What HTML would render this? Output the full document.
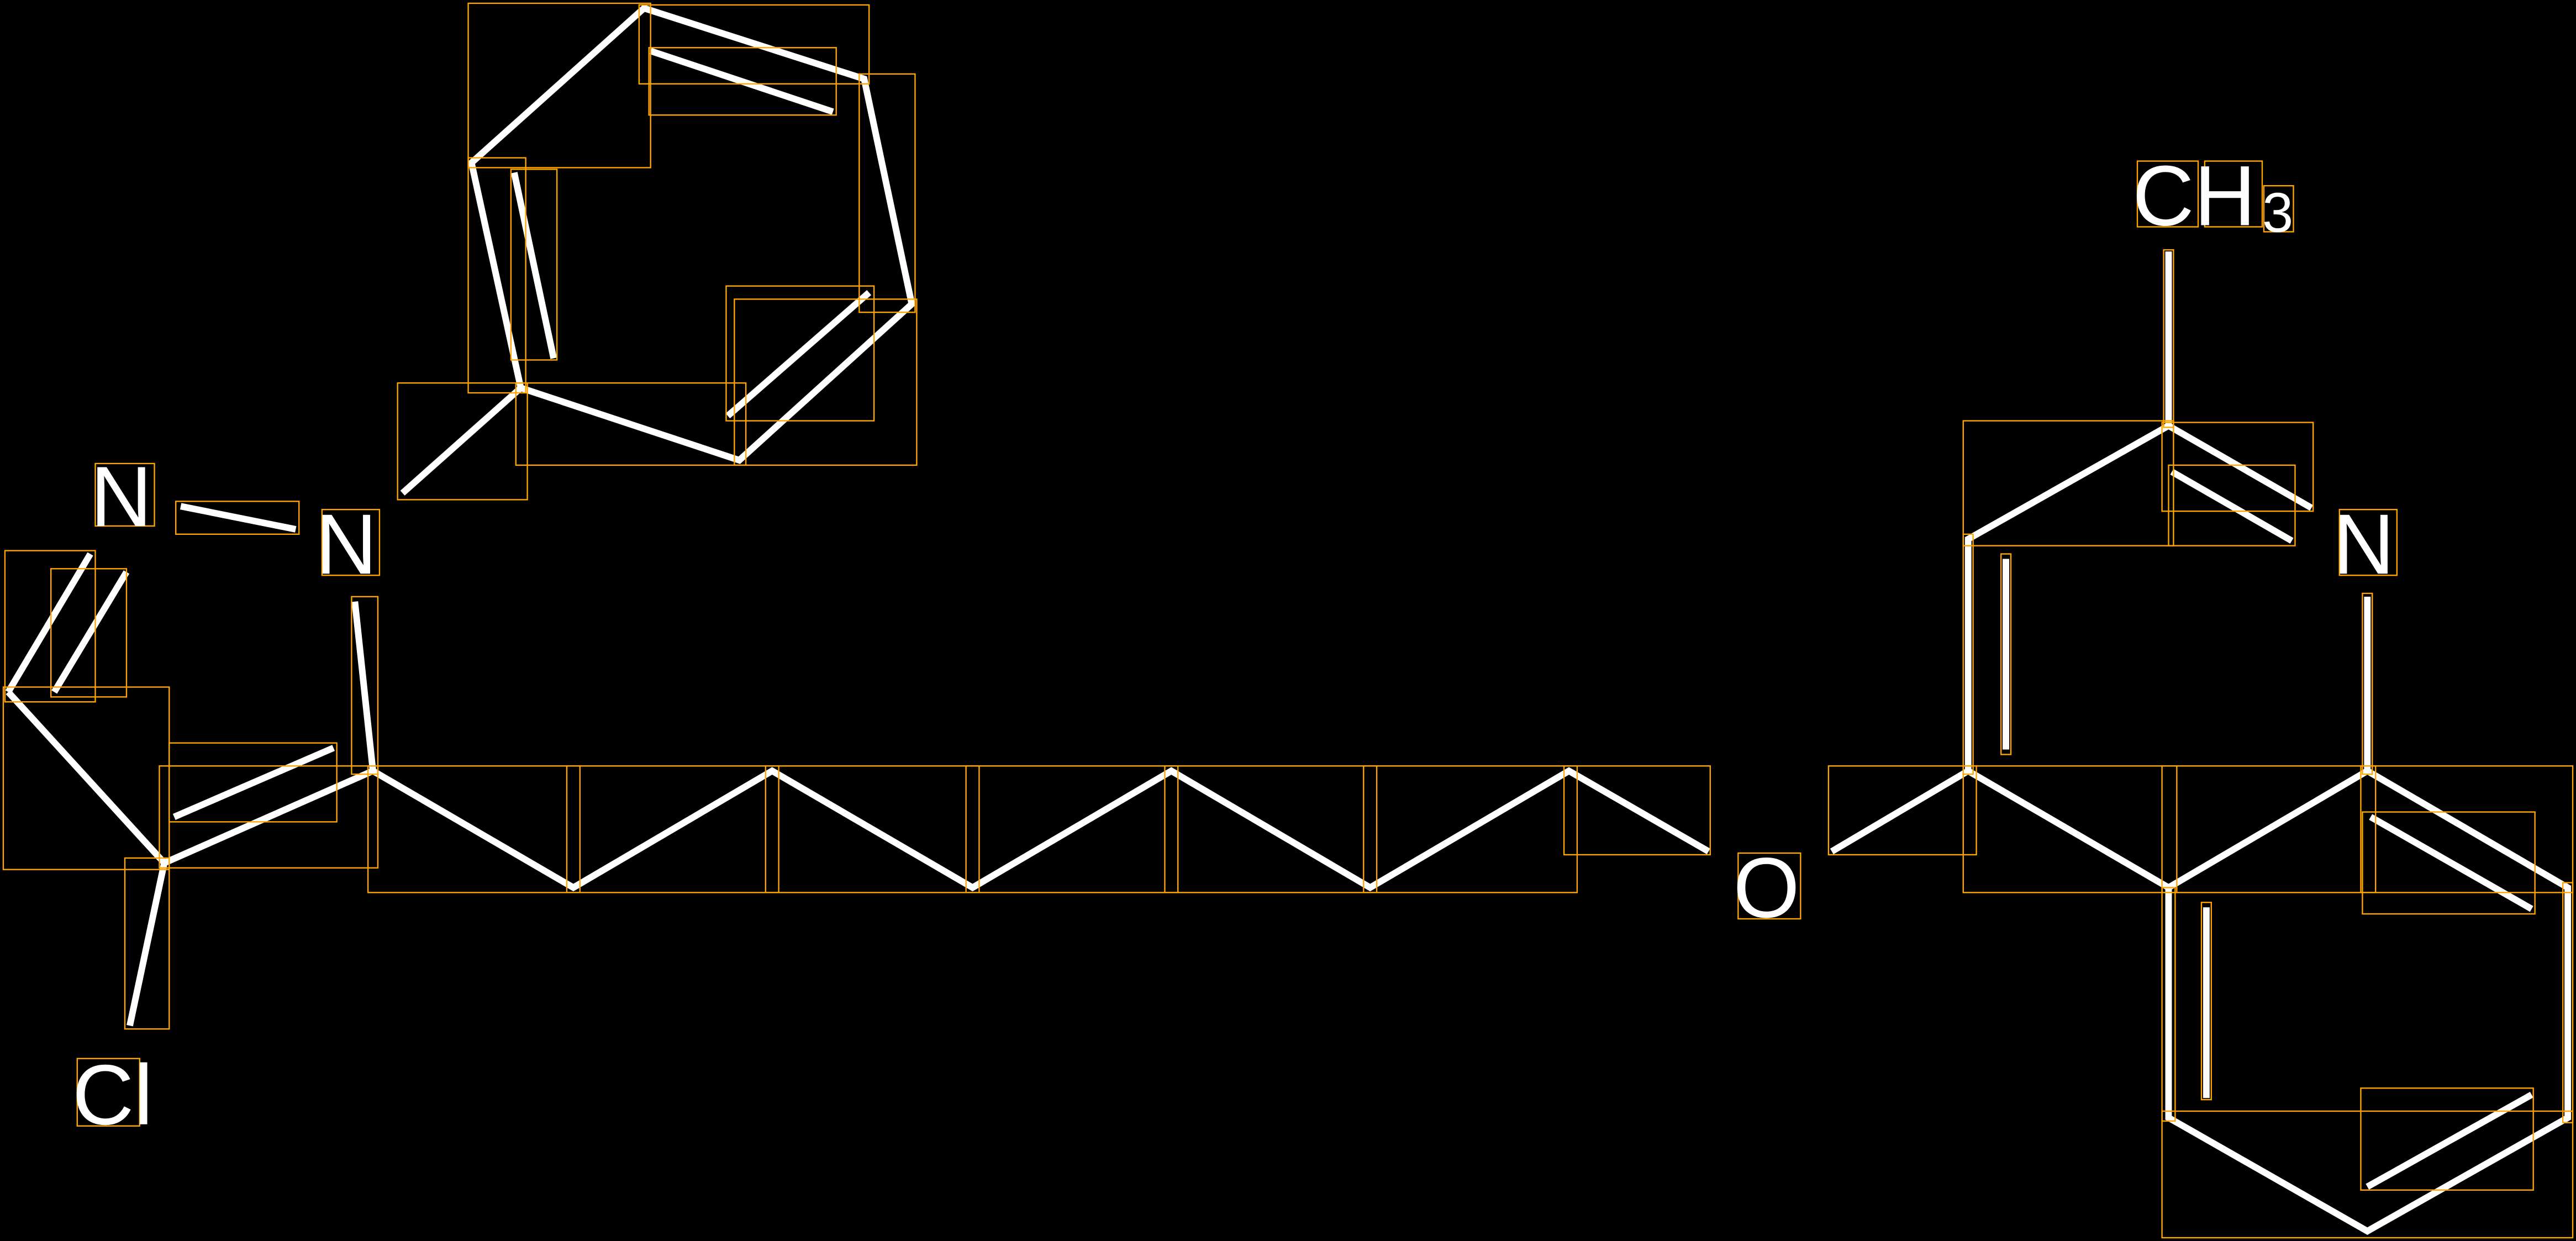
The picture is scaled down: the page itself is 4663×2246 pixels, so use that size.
<!DOCTYPE html>
<html><head><meta charset="utf-8"><style>html,body{margin:0;padding:0;background:#000;width:4663px;height:2246px;overflow:hidden}svg{display:block}</style></head><body>
<svg width="4663" height="2246" viewBox="0 0 1568 755" preserveAspectRatio="none" xmlns="http://www.w3.org/2000/svg">
<rect width="1568" height="755" fill="#000"/>
<g stroke="#fff" stroke-width="4" stroke-linecap="butt" fill="none">
<path d="M287,99 L392,5 L526,48 L555,185 L450,280 L317,236 Z"/>
<line x1="396" y1="31" x2="507" y2="68"/>
<line x1="313" y1="105" x2="337" y2="218"/>
<line x1="443" y1="253" x2="529" y2="178"/>
<line x1="317" y1="236" x2="245" y2="300"/>
<line x1="110" y1="308" x2="180" y2="322"/>
<line x1="216" y1="366" x2="227" y2="469"/>
<line x1="5" y1="421" x2="55" y2="337"/>
<line x1="33" y1="421" x2="77" y2="348"/>
<line x1="5" y1="421" x2="100" y2="525"/>
<line x1="100" y1="525" x2="227" y2="469"/>
<line x1="106" y1="497" x2="203" y2="455"/>
<line x1="100" y1="525" x2="79" y2="624"/>
<polyline points="227,469 349,540 470,469 592,540 713,469 834,540 955,469 1040,518"/>
<polyline points="1115,518 1198,469 1320,540 1441,469 1563,540 1563,680 1441,749 1320,680 1320,540"/>
<line x1="1443" y1="497" x2="1541" y2="553"/>
<line x1="1343" y1="552" x2="1343" y2="668"/>
<line x1="1441" y1="722" x2="1541" y2="666"/>
<polyline points="1198,469 1198,328 1320,259 1407,309"/>
<line x1="1221" y1="340" x2="1221" y2="456"/>
<line x1="1322" y1="287" x2="1395" y2="329"/>
<line x1="1320" y1="259" x2="1320" y2="153"/>
<line x1="1441" y1="363" x2="1441" y2="469"/>
</g>
<g stroke="#ffa500" stroke-width="0.8" fill="none">
<rect x="285" y="2" width="111" height="100"/><rect x="389" y="3" width="140" height="48"/><rect x="395" y="29" width="114" height="41"/>
<rect x="523" y="45" width="34" height="145"/><rect x="285" y="96" width="35" height="143"/><rect x="311" y="103" width="28" height="116"/>
<rect x="442" y="174" width="90" height="82"/><rect x="447" y="182" width="111" height="101"/><rect x="314" y="233" width="140" height="50"/>
<rect x="242" y="233" width="79" height="71"/><rect x="107" y="305" width="75" height="20"/><rect x="214" y="363" width="16" height="108"/>
<rect x="3" y="335" width="55" height="92"/><rect x="31" y="346" width="46" height="78"/><rect x="2" y="418" width="101" height="111"/>
<rect x="97" y="466" width="133" height="62"/><rect x="103" y="452" width="102" height="48"/><rect x="76" y="522" width="27" height="104"/>
<rect x="224" y="466" width="129" height="77"/><rect x="345" y="466" width="129" height="77"/><rect x="466" y="466" width="130" height="77"/>
<rect x="588" y="466" width="129" height="77"/><rect x="709" y="466" width="129" height="77"/><rect x="830" y="466" width="130" height="77"/>
<rect x="952" y="466" width="89" height="54"/><rect x="1113" y="466" width="90" height="54"/><rect x="1195" y="466" width="130" height="77"/>
<rect x="1316" y="466" width="130" height="77"/><rect x="1437" y="466" width="129" height="77"/><rect x="1438" y="494" width="105" height="62"/>
<rect x="1316" y="540" width="8" height="142"/><rect x="1340" y="549" width="6" height="120"/><rect x="1560" y="537" width="6" height="146"/>
<rect x="1316" y="676" width="250" height="77"/><rect x="1437" y="662" width="105" height="62"/><rect x="1195" y="325" width="6" height="146"/>
<rect x="1218" y="337" width="6" height="122"/><rect x="1195" y="256" width="128" height="76"/><rect x="1316" y="257" width="92" height="54"/>
<rect x="1320" y="283" width="77" height="49"/><rect x="1317" y="152" width="6" height="108"/><rect x="1438" y="361" width="6" height="110"/>
<rect x="58" y="282" width="36" height="38"/><rect x="196" y="310" width="35" height="40"/><rect x="47" y="644" width="38" height="41"/>
<rect x="1058" y="519" width="38" height="40"/><rect x="1301" y="98" width="37" height="40"/><rect x="1342" y="98" width="35" height="40"/>
<rect x="1378" y="113" width="18" height="28"/><rect x="1424" y="310" width="35" height="40"/>
</g>
<g fill="#fff" font-family="Liberation Sans, sans-serif" font-size="52">
<text x="55" y="320">N</text>
<text x="192" y="349">N</text>
<text x="44" y="684">Cl</text>
<text x="1055" y="558">O</text>
<text x="1298" y="137">CH</text>
<text x="1377" y="141" font-size="34">3</text>
<text x="1420" y="349">N</text>
</g>
</svg>
</body></html>
